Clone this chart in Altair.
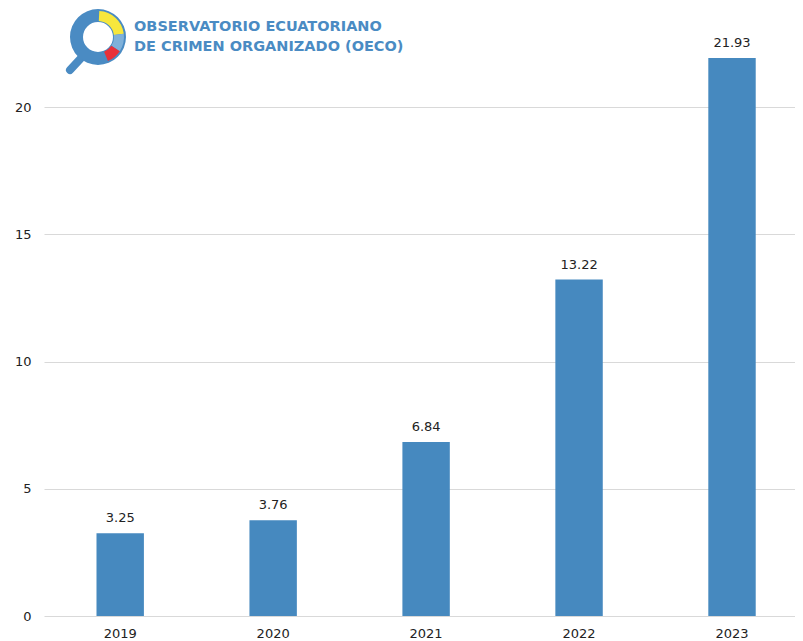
import altair as alt
import pandas as pd

years = ["2019", "2020", "2021", "2022", "2023"]
values = [3.25, 3.76, 6.84, 13.22, 21.93]
labels = ["3.25", "3.76", "6.84", "13.22", "21.93"]
title_lines = ["OBSERVATORIO ECUATORIANO", "DE CRIMEN ORGANIZADO (OECO)"]

df = pd.DataFrame({"year": years, "value": values, "label": labels})

BLUE = "#4689BF"
TBLUE = "#4A8BC3"
FONT = "DejaVu Sans"

base = alt.Chart(df)

xenc = alt.X("year:N", sort=years, title=None,
             scale=alt.Scale(paddingInner=0.69, paddingOuter=0.30, align=0.572),
             axis=alt.Axis(labelAngle=0, ticks=False, domain=False, grid=False,
                           labelPadding=11, labelFontSize=13, labelColor="#222",
                           labelFont=FONT))
yenc = alt.Y("value:Q", title=None,
             scale=alt.Scale(domain=[0, 23.5], nice=False, zero=True),
             axis=alt.Axis(values=[0, 5, 10, 15, 20], ticks=False, domain=False,
                           grid=True, gridColor="#d9d9d9", labelPadding=13,
                           labelFontSize=13, labelColor="#222", labelFont=FONT))

bars = base.mark_bar(color=BLUE).encode(x=xenc, y=yenc)
texts = base.mark_text(baseline="bottom", dy=-8, fontSize=13, color="#222",
                       font=FONT).encode(x=alt.X("year:N", sort=years),
                                         y="value:Q", text="label:N")

one = alt.Data(values=[{"a": 1}])
cx, cy = 54, 19


def arc(color, t0, t1, r, r2):
    return alt.Chart(one).mark_arc(color=color, clip=False, theta=t0, theta2=t1,
                                   radius=r, radius2=r2).encode(
        x=alt.value(cx), y=alt.value(cy))


ring = arc(TBLUE, 0, 6.2832, 28, 15)
yellow = arc("#F7E73C", 0.05, 1.45, 26, 16)
mid = arc("#7FB1DA", 1.45, 2.15, 26, 16)
red = arc("#E8313A", 2.15, 2.75, 26, 16)
handle = alt.Chart(one).mark_rule(color=TBLUE, strokeWidth=8, strokeCap="round",
                                  clip=False).encode(
    x=alt.value(26), y=alt.value(52), x2=alt.value(39), y2=alt.value(38))
t1 = alt.Chart(one).mark_text(align="left", baseline="middle", fontSize=14.5,
                              fontWeight="bold", color=TBLUE, font=FONT,
                              clip=False).encode(
    x=alt.value(90), y=alt.value(9), text=alt.value(title_lines[0]))
t2 = alt.Chart(one).mark_text(align="left", baseline="middle", fontSize=14.5,
                              fontWeight="bold", color=TBLUE, font=FONT,
                              clip=False).encode(
    x=alt.value(90), y=alt.value(29), text=alt.value(title_lines[1]))

chart = alt.layer(bars, texts, handle, ring, yellow, mid, red, t1, t2).properties(
    width=751, height=598,
    autosize=alt.AutoSizeParams(type="none"),
    padding={"left": 36, "top": 10, "right": 0, "bottom": 28},
).configure_view(stroke=None)

chart.save("out.html", embed_options={"renderer": "svg", "actions": False})
